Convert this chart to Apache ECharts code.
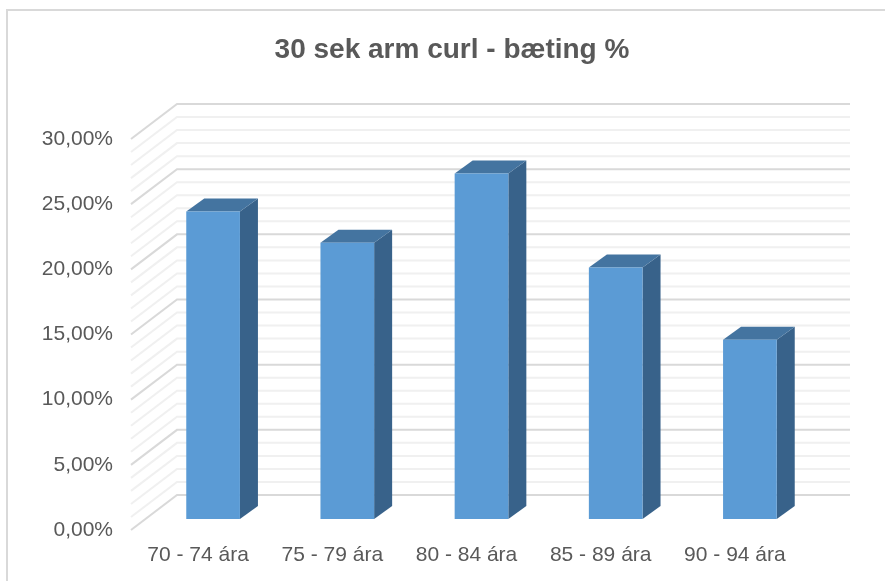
<!DOCTYPE html>
<html>
<head>
<meta charset="utf-8">
<style>html,body{margin:0;padding:0;background:#fff}#c{width:885px;height:581px}</style>
<script src="https://cdn.jsdelivr.net/npm/echarts@6/dist/echarts.min.js"></script>
</head>
<body>
<div id="c"></div>
<script>
const titleText = '30 sek arm curl - bæting %';
const categories = ['70 - 74 ára', '75 - 79 ára', '80 - 84 ára', '85 - 89 ára', '90 - 94 ára'];
const values = [23.6, 21.2, 26.5, 19.3, 13.75];
const gridValues = [0,1,2,3,4,5,6,7,8,9,10,11,12,13,14,15,16,17,18,19,20,21,22,23,24,25,26,27,28,29,30];
const majorStep = 5;
const textColor = '#595959';
const wallDepth = [46, -35];
const wallRightExtra = 2;
const barFrontDepth = [15, -11];
const barBackDepth = [33, -24];
const barWidthRatio = 0.4;

const chart = echarts.init(document.getElementById('c'), null, {renderer: 'canvas'});

function renderGrid(params, api) {
  const cs = params.coordSys;
  const v = api.value(0);
  const y = api.coord([0, v])[1];
  const major = v % majorStep === 0;
  return {
    type: 'polyline',
    silent: true,
    shape: {points: [[cs.x, y], [cs.x + wallDepth[0], y + wallDepth[1]], [cs.x + cs.width + wallDepth[0] + wallRightExtra, y + wallDepth[1]]]},
    style: {fill: null, stroke: major ? '#d9d9d9' : '#f0f0f0', lineWidth: 2}
  };
}

function renderBar(params, api) {
  const i = api.value(0);
  const top = api.coord([i, api.value(1)]);
  const base = api.coord([i, 0]);
  const w = api.size([1, 0])[0] * barWidthRatio;
  const xl = top[0] - w / 2 + barFrontDepth[0];
  const xr = xl + w;
  const yt = top[1] + barFrontDepth[1];
  const yb = base[1] + barFrontDepth[1];
  const dx = barBackDepth[0] - barFrontDepth[0];
  const dy = barBackDepth[1] - barFrontDepth[1];
  return {
    type: 'group',
    children: [
      {type: 'polygon', shape: {points: [[xr, yt], [xr + dx, yt + dy], [xr + dx, yb + dy], [xr, yb]]}, style: {fill: '#38628a'}},
      {type: 'polygon', shape: {points: [[xl, yt], [xl + dx, yt + dy], [xr + dx, yt + dy], [xr, yt]]}, style: {fill: '#4474a0'}},
      {type: 'rect', shape: {x: xl, y: yt, width: w, height: yb - yt}, style: {fill: '#5b9bd5'}}
    ]
  };
}

chart.setOption({
  animation: false,
  backgroundColor: '#ffffff',
  graphic: [{
    type: 'rect', silent: true, z: -1,
    shape: {x: 7, y: 10, width: 920, height: 620},
    style: {fill: null, stroke: '#d9d9d9', lineWidth: 2}
  }],
  title: {
    text: titleText, left: 447, top: 45, textAlign: 'center', textVerticalAlign: 'middle',
    textStyle: {fontFamily: 'Liberation Sans', fontSize: 28, fontWeight: 'bold', color: textColor}
  },
  grid: {left: 131, top: 139, width: 671, height: 391, containLabel: false},
  xAxis: {
    type: 'category', data: categories,
    axisLine: {show: false}, axisTick: {show: false}, splitLine: {show: false},
    axisLabel: {fontFamily: 'Liberation Sans', fontSize: 21, color: textColor, margin: 15, interval: 0}
  },
  yAxis: {
    type: 'value', min: 0, max: 30, interval: 5,
    axisLine: {show: false}, axisTick: {show: false}, splitLine: {show: false},
    axisLabel: {
      fontFamily: 'Liberation Sans', fontSize: 21, color: textColor, margin: 18,
      formatter: v => v.toFixed(2).replace('.', ',') + '%'
    }
  },
  series: [
    {type: 'custom', z: 1, data: gridValues.map(v => [v]), encode: {y: 0}, renderItem: renderGrid, silent: true},
    {type: 'custom', z: 2, data: values.map((v, i) => [i, v]), encode: {x: 0, y: 1}, renderItem: renderBar, silent: true}
  ]
});
</script>
</body>
</html>
